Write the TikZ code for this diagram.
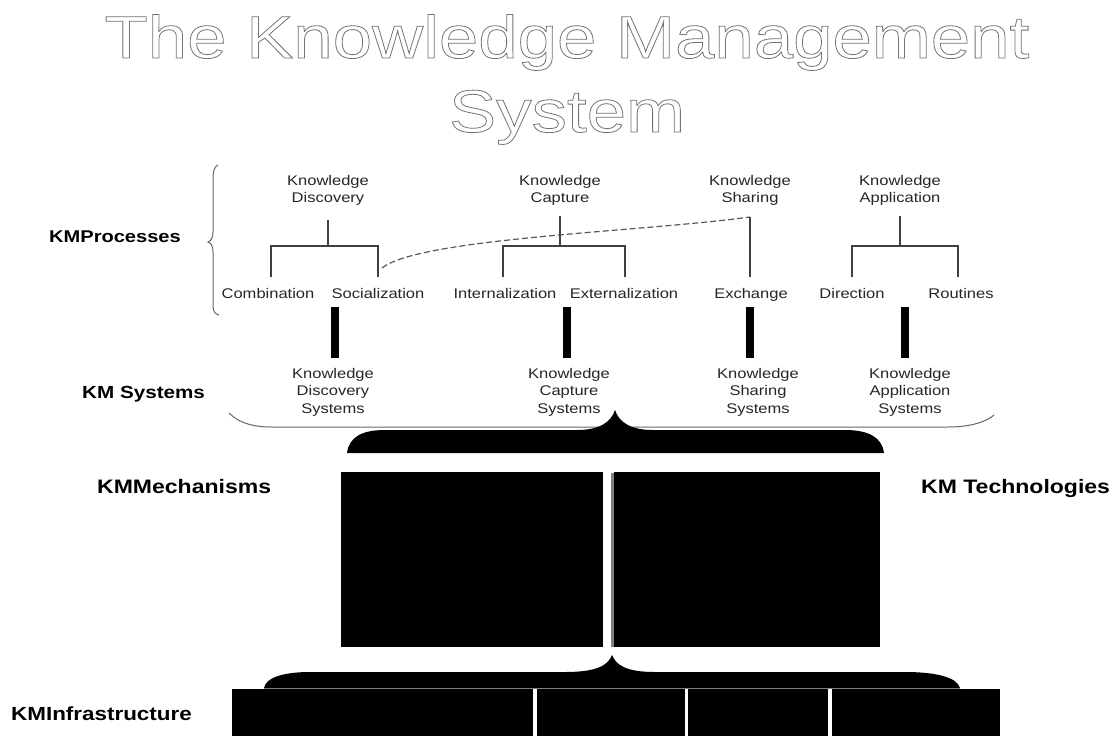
\documentclass[tikz,border=0pt]{standalone}
\usepackage{fontspec}
\setmainfont{Liberation Sans}[FakeStretch=1.18]
\newfontfamily\titlefont{Liberation Sans}[FakeStretch=1.18]
\begin{document}
\begin{tikzpicture}[x=1pt,y=-1pt,
  lbl/.style={font=\fontsize{14}{17.5}\selectfont, inner sep=0, align=center, text=black!85},
  head/.style={font=\bfseries\fontsize{#1}{#1}\selectfont, inner sep=0, anchor=base west},
  tree/.style={draw=black!75, line width=2pt},
  bar/.style={fill=black},
  blk/.style={fill=black},
  thinbrace/.style={draw=black!60, line width=1pt},
  dashline/.style={draw=black!65, line width=1.2pt, dash pattern=on 6pt off 3pt},
  titletext/.style={font=\titlefont\fontsize{60}{60}\selectfont, text=black!55, inner sep=0, anchor=base}
]
\useasboundingbox (0,0) rectangle (1115,736);
\fill[white] (0,0) rectangle (1115,736);

% title (outlined)
\node[titletext] (t1) at (567,58) {\special{pdf:literal direct 1 Tr 0.8 w}The Knowledge Management\special{pdf:literal direct 0 Tr}};
\node[titletext] (t2) at (567,132) {\special{pdf:literal direct 1 Tr 0.8 w}System\special{pdf:literal direct 0 Tr}};

% row headings
\node[head=17] (hp) at (49,242) {KMProcesses};
\node[head=17.5] (hs) at (82,398) {KM Systems};
\node[head=19.5] (hm) at (97,493) {KMMechanisms};
\node[head=19.5] (ht) at (921,493) {KM Technologies};
\node[head=19] (hi) at (11,720) {KMInfrastructure};

% process labels
\node[lbl, anchor=north] (kd) at (328,175) {Knowledge\\Discovery};
\node[lbl, anchor=north] (kc) at (560,175) {Knowledge\\Capture};
\node[lbl, anchor=north] (ks) at (750,175) {Knowledge\\Sharing};
\node[lbl, anchor=north] (ka) at (900,175) {Knowledge\\Application};

\node[lbl, anchor=base] (comb) at (268,298) {Combination};
\node[lbl, anchor=base] (soc) at (378,298) {Socialization};
\node[lbl, anchor=base] (int) at (505,298) {Internalization};
\node[lbl, anchor=base] (ext) at (624,298) {Externalization};
\node[lbl, anchor=base] (exch) at (751,298) {Exchange};
\node[lbl, anchor=base] (dir) at (852,298) {Direction};
\node[lbl, anchor=base] (rout) at (961,298) {Routines};

% trees
\coordinate (kdt) at (328,220); \coordinate (kdj) at (328,246);
\coordinate (kdl) at (271,277); \coordinate (kdr) at (378,277);
\draw[tree] (kdt) -- (kdj);
\draw[tree] (kdl) |- (kdj) -| (kdr);

\coordinate (kct) at (560,216); \coordinate (kcj) at (560,246);
\coordinate (kcl) at (503,277); \coordinate (kcr) at (625,277);
\draw[tree] (kct) -- (kcj);
\draw[tree] (kcl) |- (kcj) -| (kcr);

\coordinate (kst) at (750,217); \coordinate (ksb) at (750,277);
\draw[tree] (kst) -- (ksb);

\coordinate (kat) at (900,216); \coordinate (kaj) at (900,246);
\coordinate (kal) at (852,277); \coordinate (kar) at (958,277);
\draw[tree] (kat) -- (kaj);
\draw[tree] (kal) |- (kaj) -| (kar);

% dashed link
\coordinate (dsoc) at (382,268);
\draw[dashline] (dsoc) .. controls (420,238) and (640,232) .. (kst);

% left brace for processes
\coordinate (pb1) at (218,165); \coordinate (pbt) at (208,242); \coordinate (pb2) at (219,315);
\draw[thinbrace] (pb1) .. controls (214,167) and (213,171) .. (213,180) -- (213,232)
  .. controls (213,238) and (211,241) .. (pbt) .. controls (211,243) and (213,246) .. (213,252)
  -- (213,305) .. controls (213,312) and (215,314) .. (pb2);

% system labels
\node[lbl, anchor=north] (sd) at (333,368) {Knowledge\\Discovery\\Systems};
\node[lbl, anchor=north] (sc) at (569,368) {Knowledge\\Capture\\Systems};
\node[lbl, anchor=north] (ss) at (758,368) {Knowledge\\Sharing\\Systems};
\node[lbl, anchor=north] (sa) at (910,368) {Knowledge\\Application\\Systems};

% thick bars
\fill[bar] (331,307) rectangle (339,358);
\fill[bar] (563,307) rectangle (571,358);
\fill[bar] (746,307) rectangle (754,358);
\fill[bar] (901,307) rectangle (909,358);

% thin brace under systems
\coordinate (sb1) at (229,413); \coordinate (sb2) at (994,415);
\draw[thinbrace] (sb1) .. controls (240,424) and (255,427) .. (272,427) -- (948,427)
  .. controls (970,427) and (986,422) .. (sb2);

% black brace above mechanisms/technologies
\fill[blk] (347,453) .. controls (349,437) and (362,430) .. (385,430) -- (577,430)
  .. controls (600,430) and (611,422) .. (615,410) .. controls (619,422) and (630,430) .. (653,430)
  -- (845,430) .. controls (868,430) and (882,437) .. (884,453) -- cycle;

% mechanism / technology boxes
\node[blk, minimum width=262pt, minimum height=175pt, inner sep=0, anchor=north west] (mech) at (341,472) {};
\node[blk, minimum width=266pt, minimum height=175pt, inner sep=0, anchor=north west] (tech) at (614,472) {};
\fill[black!50] (610.7,473) rectangle (614,647);

% lower black brace
\fill[blk] (264,688) .. controls (266,677) and (285,672) .. (310,672) -- (565,672)
  .. controls (598,672) and (608,665) .. (612,655) .. controls (616,665) and (626,672) .. (655,672)
  -- (905,672) .. controls (935,672) and (957,677) .. (960,688) -- cycle;

% infrastructure boxes
\node[blk, minimum width=301pt, minimum height=47pt, inner sep=0, anchor=north west] (i1) at (232,689) {};
\node[blk, minimum width=148pt, minimum height=47pt, inner sep=0, anchor=north west] (i2) at (537,689) {};
\node[blk, minimum width=140pt, minimum height=47pt, inner sep=0, anchor=north west] (i3) at (688,689) {};
\node[blk, minimum width=168pt, minimum height=47pt, inner sep=0, anchor=north west] (i4) at (832,689) {};
\draw[black!50, line width=1.5pt] (264,688.5) -- (960,688.5);
\end{tikzpicture}
\end{document}
